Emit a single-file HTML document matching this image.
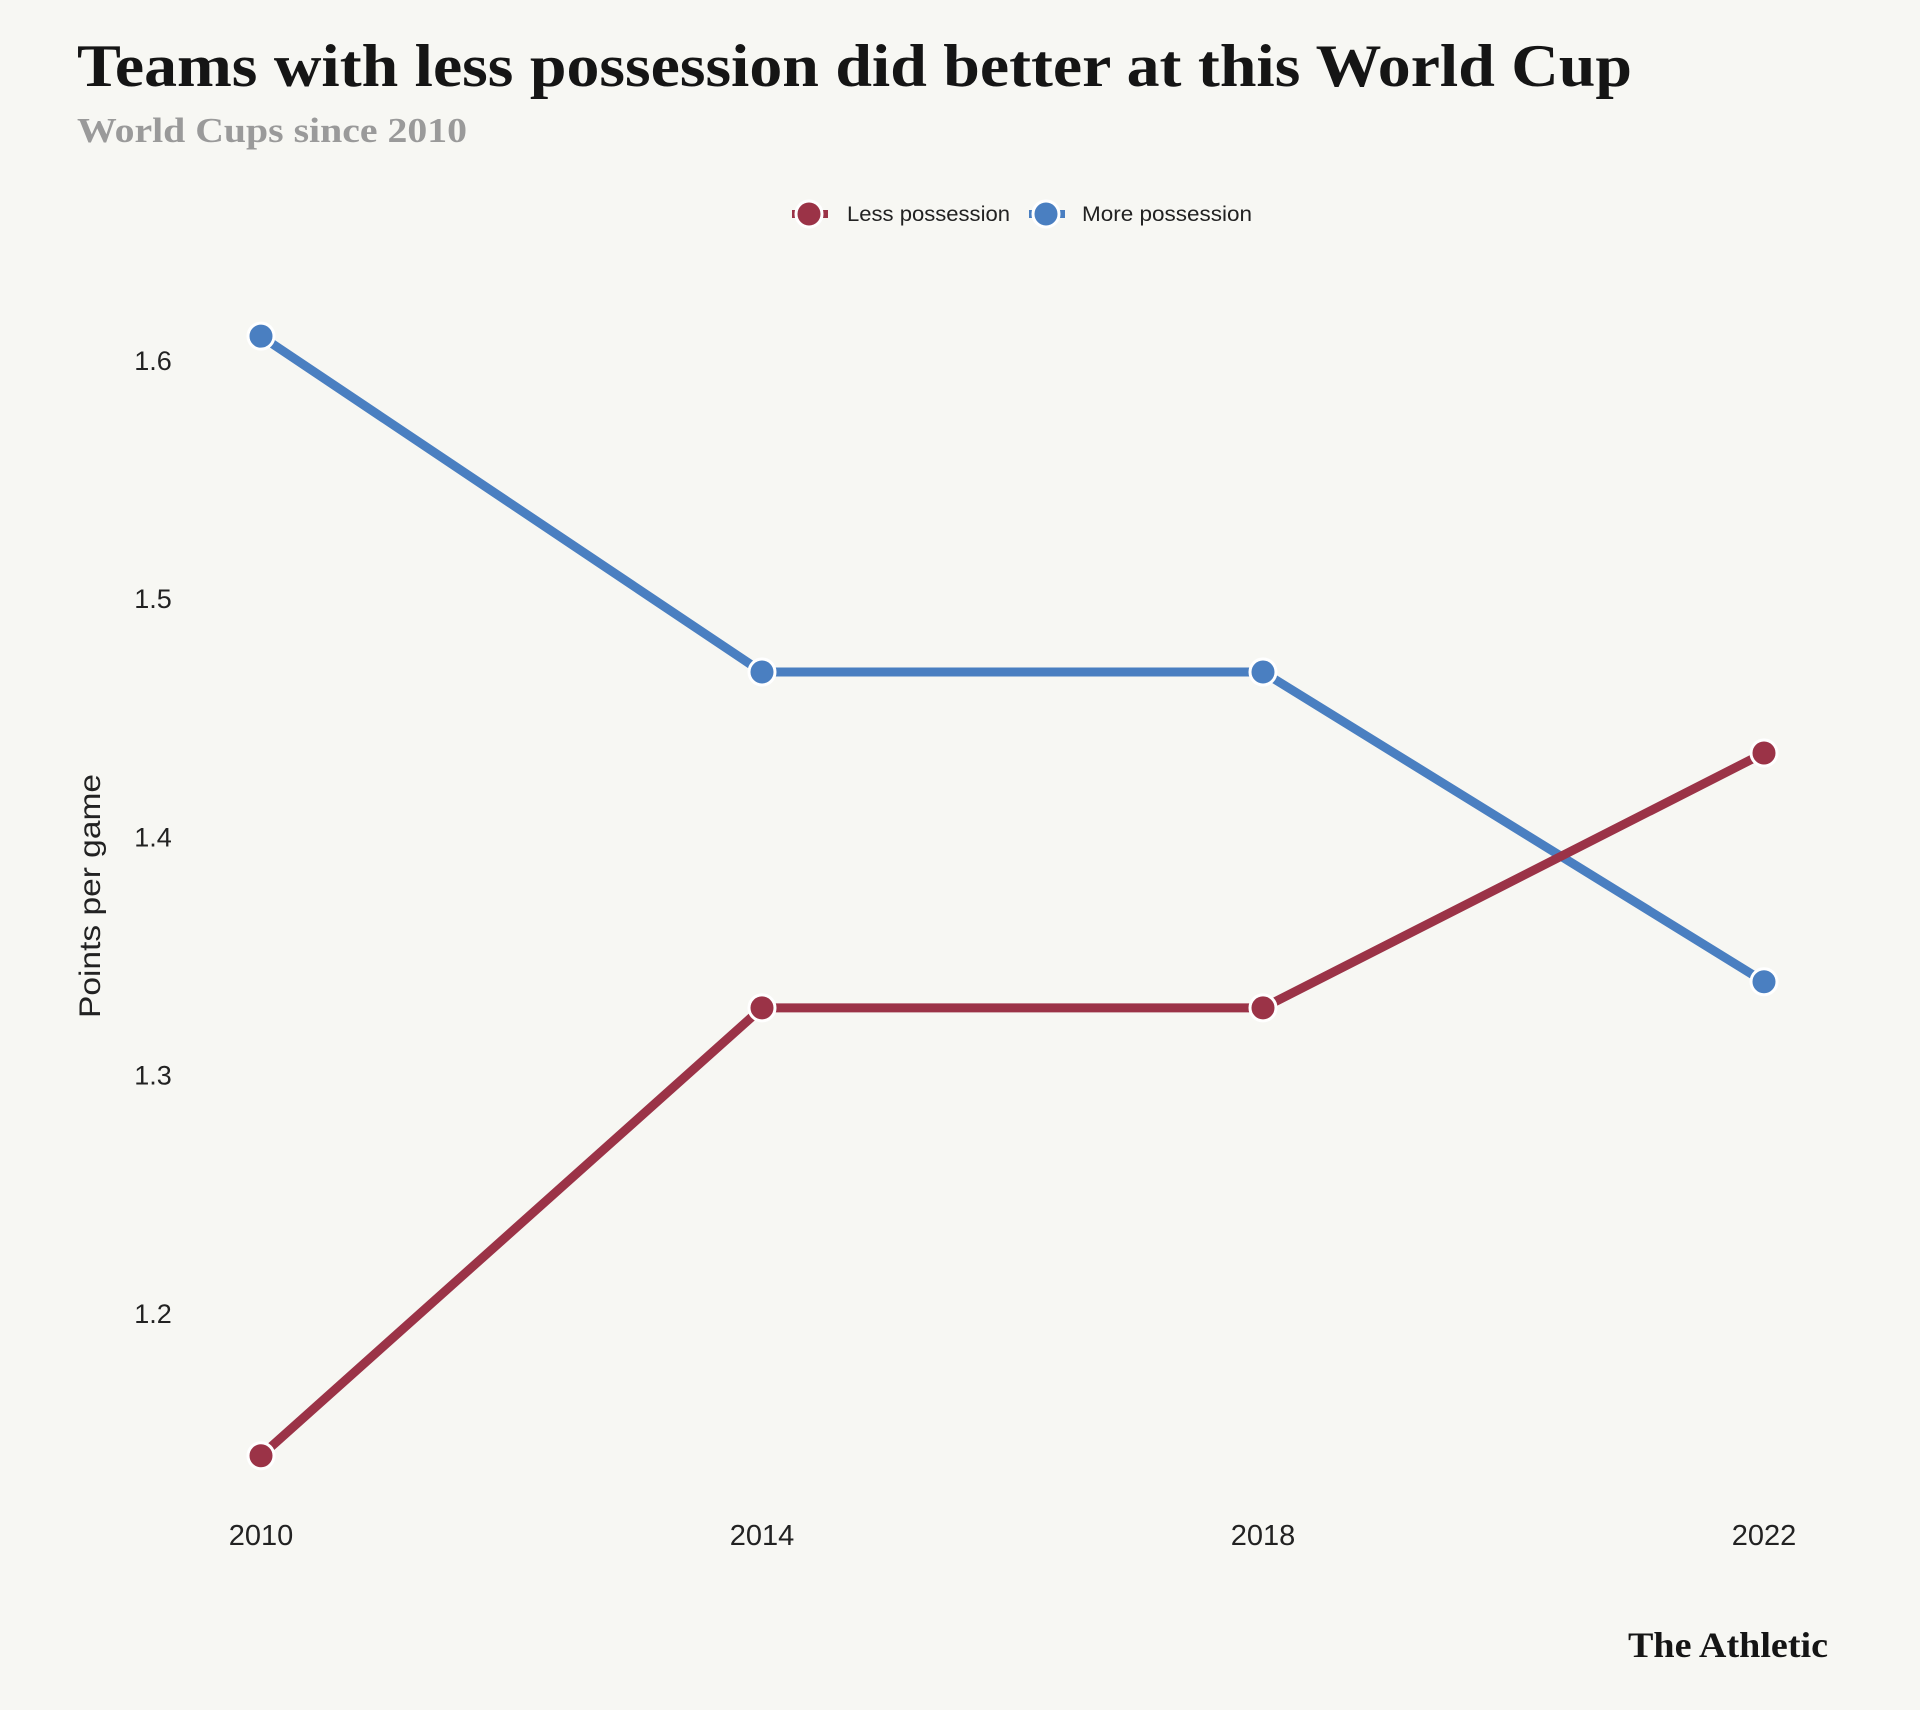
<!DOCTYPE html>
<html><head><meta charset="utf-8"><style>
body{margin:0;background:#f7f7f3;}
svg{display:block;font-family:"Liberation Sans",sans-serif;}
</style></head><body>
<svg width="1920" height="1710">
<rect width="1920" height="1710" fill="#f7f7f3"/>
<text x="77" y="86" font-family="Liberation Serif,serif" font-weight="bold" font-size="60" fill="#151515" textLength="1555" lengthAdjust="spacingAndGlyphs">Teams with less possession did better at this World Cup</text>
<text x="77" y="142" font-family="Liberation Serif,serif" font-weight="bold" font-size="35" fill="#9a9a9a" textLength="390" lengthAdjust="spacingAndGlyphs">World Cups since 2010</text>
<g>
<g>
<line x1="792" y1="214" x2="828" y2="214" stroke="#9b3347" stroke-width="8"/>
<circle cx="809" cy="214" r="13" fill="#9b3347" stroke="#fff" stroke-width="3"/>
<text x="847" y="221" font-size="21" fill="#222" textLength="163" lengthAdjust="spacingAndGlyphs">Less possession</text></g>
<g>
<line x1="1029" y1="214" x2="1065" y2="214" stroke="#4a7fc1" stroke-width="8"/>
<circle cx="1046" cy="214" r="13" fill="#4a7fc1" stroke="#fff" stroke-width="3"/>
<text x="1082" y="221" font-size="21" fill="#222" textLength="170" lengthAdjust="spacingAndGlyphs">More possession</text></g>
</g>
<text transform="translate(100,896) rotate(-90)" text-anchor="middle" font-size="30" fill="#222" textLength="244" lengthAdjust="spacingAndGlyphs">Points per game</text>
<g id="yaxis"></g>
<g id="xaxis"></g>
<g id="series"></g>
<text x="1828" y="1657" text-anchor="end" font-family="Liberation Serif,serif" font-weight="bold" font-size="36" fill="#151515" textLength="200" lengthAdjust="spacingAndGlyphs">The Athletic</text>
</svg>
<script>
const categories = ["2010","2014","2018","2022"];
const lessPossession = [1.140, 1.328, 1.328, 1.435];
const morePossession = [1.610, 1.469, 1.469, 1.339];
const yTicks = [1.2, 1.3, 1.4, 1.5, 1.6];
const yTickLabels = ["1.2","1.3","1.4","1.5","1.6"];

const NS="http://www.w3.org/2000/svg";
function xScale(i){return 261 + i*(1764-261)/(categories.length-1);}
function yScale(v){return 360 + (1.6 - v)*2382;}
function mk(tag,attrs,parent){const e=document.createElementNS(NS,tag);for(const k in attrs)e.setAttribute(k,attrs[k]);parent.appendChild(e);return e;}

const ya=document.getElementById('yaxis');
yTicks.forEach((v,i)=>{
  const t=mk('text',{x:153,y:yScale(v)+10,'text-anchor':'middle','font-size':27,fill:'#222'},ya);
  t.textContent=yTickLabels[i];
  
  
});
const xa=document.getElementById('xaxis');
categories.forEach((c,i)=>{
  const t=mk('text',{x:xScale(i),y:1545,'text-anchor':'middle','font-size':29,fill:'#222'},xa);
  t.textContent=c;
  
  
});
const sg=document.getElementById('series');
function drawSeries(vals,color,name){
  const g=mk('g',{},sg);
  
  
  const pts=vals.map((v,i)=>xScale(i)+','+yScale(v)).join(' ');
  const pl=mk('polyline',{points:pts,fill:'none',stroke:color,'stroke-width':9,'stroke-linejoin':'round'},g);
  
  
  vals.forEach((v,i)=>{
    const c=mk('circle',{cx:xScale(i),cy:yScale(v),r:13,fill:color,stroke:'#fff','stroke-width':3},g);
    
    
  });
}
drawSeries(morePossession,'#4a7fc1','more-possession');
drawSeries(lessPossession,'#9b3347','less-possession');
</script>
</body></html>
